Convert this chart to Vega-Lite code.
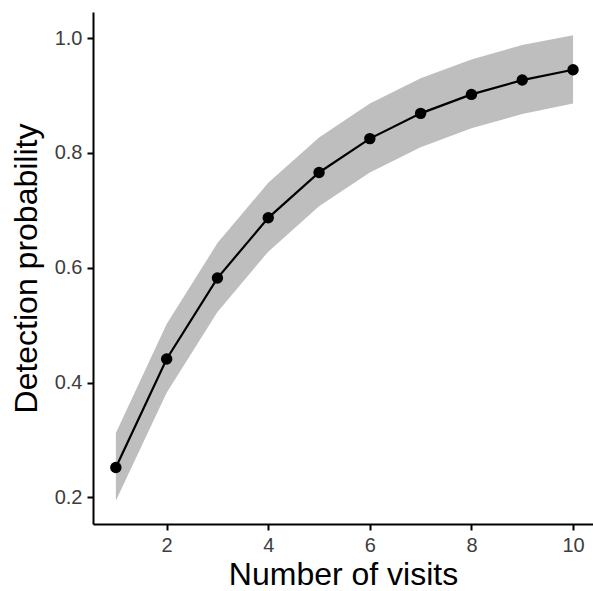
{
  "$schema": "https://vega.github.io/schema/vega-lite/v6.json",
  "width": 500,
  "height": 512,
  "autosize": "none",
  "padding": {"left": 93, "top": 12, "right": 0, "bottom": 67},
  "background": "white",
  "config": {
    "view": {"stroke": null},
    "font": "Liberation Sans",
    "axis": {
      "grid": false,
      "domainColor": "black",
      "domainWidth": 2,
      "tickColor": "black",
      "tickWidth": 2,
      "tickSize": 6,
      "labelColor": "#3D3D3D",
      "labelFont": "Liberation Sans",
      "labelFontSize": 20,
      "labelPadding": 5,
      "titleFont": "Liberation Sans",
      "titleFontWeight": "normal",
      "titleColor": "black",
      "titleFontSize": 32
    }
  },
  "data": {
    "values": [
      {"visits": 1, "p": 0.252, "lo": 0.194, "hi": 0.312},
      {"visits": 2, "p": 0.441, "lo": 0.382, "hi": 0.502},
      {"visits": 3, "p": 0.582, "lo": 0.523, "hi": 0.643},
      {"visits": 4, "p": 0.687, "lo": 0.628, "hi": 0.748},
      {"visits": 5, "p": 0.766, "lo": 0.707, "hi": 0.827},
      {"visits": 6, "p": 0.825, "lo": 0.766, "hi": 0.886},
      {"visits": 7, "p": 0.869, "lo": 0.810, "hi": 0.930},
      {"visits": 8, "p": 0.902, "lo": 0.843, "hi": 0.963},
      {"visits": 9, "p": 0.927, "lo": 0.868, "hi": 0.988},
      {"visits": 10, "p": 0.945, "lo": 0.886, "hi": 1.005}
    ]
  },
  "encoding": {
    "x": {
      "field": "visits",
      "type": "quantitative",
      "scale": {"domain": [0.55, 10.393], "nice": false, "zero": false},
      "axis": {"values": [2, 4, 6, 8, 10], "title": "Number of visits", "titlePadding": 4}
    }
  },
  "layer": [
    {
      "mark": {"type": "area", "color": "#BEBEBE", "opacity": 1},
      "encoding": {
        "y": {
          "field": "lo",
          "type": "quantitative",
          "scale": {"domain": [0.1535, 1.0456], "nice": false, "zero": false},
          "axis": {"values": [0.2, 0.4, 0.6, 0.8, 1.0], "format": ".1f", "title": "Detection probability", "titlePadding": 11}
        },
        "y2": {"field": "hi"}
      }
    },
    {
      "mark": {"type": "line", "color": "black", "strokeWidth": 2.2},
      "encoding": {"y": {"field": "p", "type": "quantitative"}}
    },
    {
      "mark": {"type": "point", "filled": true, "color": "black", "opacity": 1, "size": 130},
      "encoding": {"y": {"field": "p", "type": "quantitative"}}
    }
  ]
}
